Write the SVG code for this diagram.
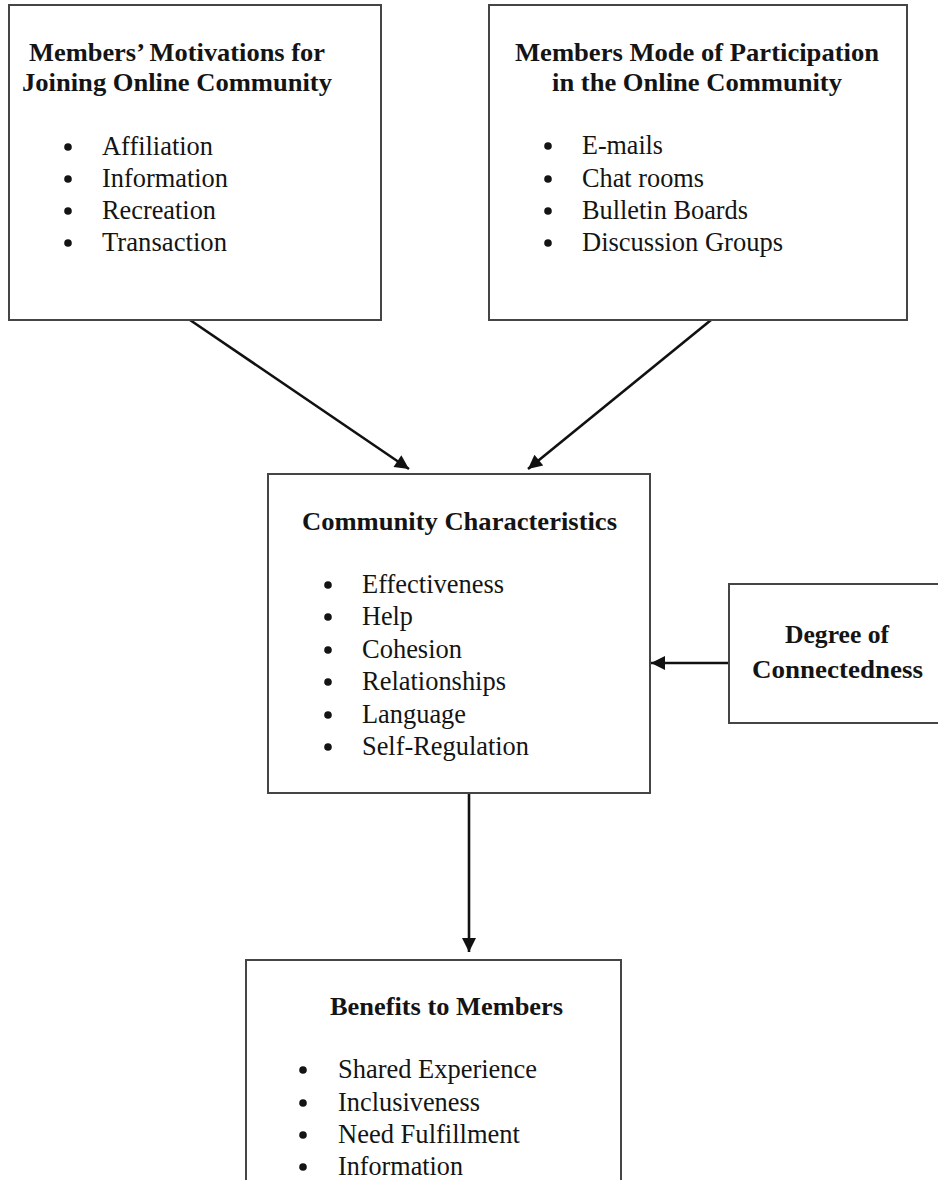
<svg xmlns="http://www.w3.org/2000/svg" width="938" height="1180" viewBox="0 0 938 1180">
<defs>
<style>
.box{fill:#fff;stroke:#464444;stroke-width:2}
.t{font-family:"Liberation Serif","Times New Roman",serif;font-weight:bold;font-size:25.5px;fill:#141414;text-anchor:middle}
.b{font-family:"Liberation Serif","Times New Roman",serif;font-size:27.5px;fill:#141414}
.dot{fill:#141414}
.c{stroke:#111;stroke-width:2.6;fill:none}
</style>
<marker id="ah" viewBox="0 0 10 10" refX="10" refY="5" markerWidth="17" markerHeight="14" markerUnits="userSpaceOnUse" orient="auto">
<path d="M0,0 L10,5 L0,10 z" fill="#111"/>
</marker>
</defs>
<rect width="938" height="1180" fill="#fff"/>
<g id="connectors">
<line class="c" x1="190" y1="320" x2="409" y2="469" marker-end="url(#ah)"/>
<line class="c" x1="711" y1="320" x2="528" y2="469" marker-end="url(#ah)"/>
<line class="c" x1="729" y1="663" x2="651" y2="663" marker-end="url(#ah)"/>
<line class="c" x1="469" y1="793" x2="469" y2="952" marker-end="url(#ah)"/>
</g>
<g id="motivations">
<rect class="box" x="9" y="5" width="372" height="315"/>
<text class="t" x="177" y="61" textLength="296" lengthAdjust="spacingAndGlyphs">Members’ Motivations for</text>
<text class="t" x="177" y="91" textLength="310" lengthAdjust="spacingAndGlyphs">Joining Online Community</text>
<circle class="dot" cx="68" cy="147" r="3.8"/><text class="b" x="102" y="155" textLength="111" lengthAdjust="spacingAndGlyphs">Affiliation</text>
<circle class="dot" cx="68" cy="179" r="3.8"/><text class="b" x="102" y="187" textLength="126" lengthAdjust="spacingAndGlyphs">Information</text>
<circle class="dot" cx="68" cy="211" r="3.8"/><text class="b" x="102" y="219" textLength="114" lengthAdjust="spacingAndGlyphs">Recreation</text>
<circle class="dot" cx="68" cy="243" r="3.8"/><text class="b" x="102" y="251" textLength="125" lengthAdjust="spacingAndGlyphs">Transaction</text>
</g>
<g id="participation">
<rect class="box" x="489" y="5" width="418" height="315"/>
<text class="t" x="697" y="61" textLength="364" lengthAdjust="spacingAndGlyphs">Members Mode of Participation</text>
<text class="t" x="697" y="91" textLength="290" lengthAdjust="spacingAndGlyphs">in the Online Community</text>
<circle class="dot" cx="548" cy="146" r="3.8"/><text class="b" x="582" y="154" textLength="81" lengthAdjust="spacingAndGlyphs">E-mails</text>
<circle class="dot" cx="548" cy="179" r="3.8"/><text class="b" x="582" y="187" textLength="122" lengthAdjust="spacingAndGlyphs">Chat rooms</text>
<circle class="dot" cx="548" cy="211" r="3.8"/><text class="b" x="582" y="219" textLength="166" lengthAdjust="spacingAndGlyphs">Bulletin Boards</text>
<circle class="dot" cx="548" cy="243" r="3.8"/><text class="b" x="582" y="251" textLength="201" lengthAdjust="spacingAndGlyphs">Discussion Groups</text>
</g>
<g id="characteristics">
<rect class="box" x="268" y="474" width="382" height="319"/>
<text class="t" x="459.5" y="530" textLength="315" lengthAdjust="spacingAndGlyphs">Community Characteristics</text>
<circle class="dot" cx="328" cy="585" r="3.8"/><text class="b" x="362" y="593" textLength="142" lengthAdjust="spacingAndGlyphs">Effectiveness</text>
<circle class="dot" cx="328" cy="617" r="3.8"/><text class="b" x="362" y="625" textLength="51" lengthAdjust="spacingAndGlyphs">Help</text>
<circle class="dot" cx="328" cy="650" r="3.8"/><text class="b" x="362" y="658" textLength="100" lengthAdjust="spacingAndGlyphs">Cohesion</text>
<circle class="dot" cx="328" cy="682" r="3.8"/><text class="b" x="362" y="690" textLength="144" lengthAdjust="spacingAndGlyphs">Relationships</text>
<circle class="dot" cx="328" cy="715" r="3.8"/><text class="b" x="362" y="723" textLength="104" lengthAdjust="spacingAndGlyphs">Language</text>
<circle class="dot" cx="328" cy="747" r="3.8"/><text class="b" x="362" y="755" textLength="167" lengthAdjust="spacingAndGlyphs">Self-Regulation</text>
</g>
<g id="connectedness">
<rect class="box" x="729" y="584" width="215" height="139"/>
<text class="t" x="837" y="643" textLength="104" lengthAdjust="spacingAndGlyphs">Degree of</text>
<text class="t" x="837.5" y="678" textLength="171" lengthAdjust="spacingAndGlyphs">Connectedness</text>
</g>
<g id="benefits">
<rect class="box" x="246" y="960" width="375" height="230"/>
<text class="t" x="446.5" y="1015" textLength="233" lengthAdjust="spacingAndGlyphs">Benefits to Members</text>
<circle class="dot" cx="303" cy="1070" r="3.8"/><text class="b" x="338" y="1078" textLength="199" lengthAdjust="spacingAndGlyphs">Shared Experience</text>
<circle class="dot" cx="303" cy="1103" r="3.8"/><text class="b" x="338" y="1111" textLength="142" lengthAdjust="spacingAndGlyphs">Inclusiveness</text>
<circle class="dot" cx="303" cy="1135" r="3.8"/><text class="b" x="338" y="1143" textLength="182" lengthAdjust="spacingAndGlyphs">Need Fulfillment</text>
<circle class="dot" cx="303" cy="1167" r="3.8"/><text class="b" x="338" y="1175" textLength="125" lengthAdjust="spacingAndGlyphs">Information</text>
</g>
</svg>
